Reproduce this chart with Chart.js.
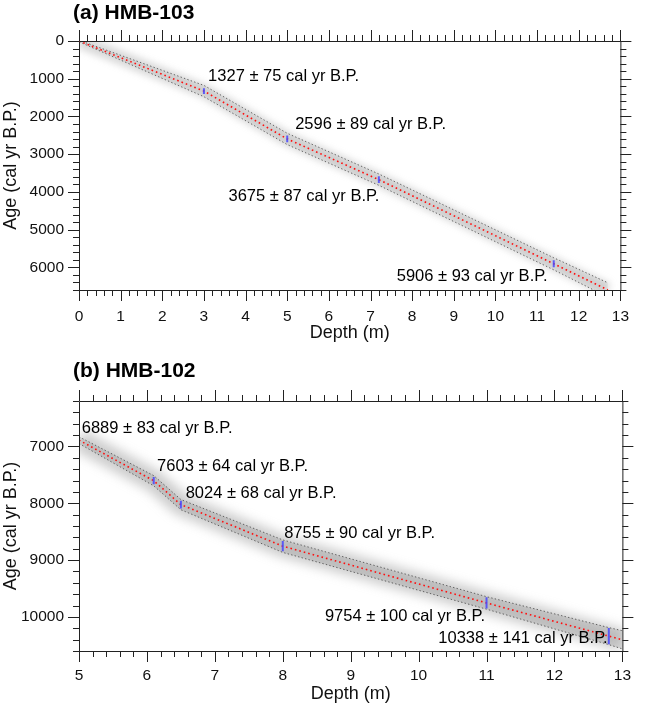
<!DOCTYPE html>
<html>
<head>
<meta charset="utf-8">
<script src="https://cdn.jsdelivr.net/npm/chart.js@4.4.0/dist/chart.umd.min.js"></script>
<style>
  html, body { margin: 0; padding: 0; background: #fff; }
  #wrap { position: relative; width: 646px; height: 705px; }
  canvas { position: absolute; left: 0; }
</style>
</head>
<body>
<div id="wrap">
  <canvas id="chartA" width="646" height="352" style="top:0"></canvas>
  <canvas id="chartB" width="646" height="353" style="top:352px"></canvas>
</div>
<script>
// (a) HMB-103 : age-depth model
const depthA = [0, 3.0, 5.0, 7.2, 11.4, 12.7];
const ageA = [0, 1327, 2596, 3675, 5906, 6600];
const bandA = [20, 150, 150, 150, 160, 190];
// dated samples
const dateDepthA = [3.0, 5.0, 7.2, 11.4];
const dateAgeA = [1327, 2596, 3675, 5906];
const dateErrA = [75, 89, 87, 93];
// where the date labels sit (depth, age)
const labelPosA = [[3.1, 930], [5.19, 2210], [3.59, 4130], [7.63, 6240]];
const xTicksA = [0, 1, 2, 3, 4, 5, 6, 7, 8, 9, 10, 11, 12, 13];
const yTicksA = [0, 1000, 2000, 3000, 4000, 5000, 6000];

// (b) HMB-102
const depthB = [5.0, 6.1, 6.5, 8.0, 11.0, 12.8, 13.0];
const ageB = [6889, 7603, 8024, 8755, 9754, 10338, 10403];
const bandB = [60, 90, 90, 110, 110, 150, 160];
const dateDepthB = [5.0, 6.1, 6.5, 8.0, 11.0, 12.8];
const dateAgeB = [6889, 7603, 8024, 8755, 9754, 10338];
const dateErrB = [83, 64, 68, 90, 100, 141];
const labelPosB = [[5.04, 6690], [6.15, 7360], [6.57, 7830], [8.02, 8525], [8.62, 10000], [10.29, 10380]];
const xTicksB = [5, 6, 7, 8, 9, 10, 11, 12, 13];
const yTicksB = [7000, 8000, 9000, 10000];

const FONT = '"Liberation Sans", Arial, Helvetica, sans-serif';

// blur for the grey halo
const haloBlur = {
  id: 'haloBlur',
  beforeDatasetDraw(chart, args) {
    const ds = chart.data.datasets[args.index];
    if (ds.blur) {
      chart.ctx.save();
      chart.ctx.filter = 'blur(' + ds.blur + 'px)';
    }
  },
  afterDatasetDraw(chart, args) {
    if (chart.data.datasets[args.index].blur) chart.ctx.restore();
  }
};

// frame + outward ticks on all four sides
const frameTicks = {
  id: 'frameTicks',
  afterDatasetsDraw(chart, args, opts) {
    const {ctx, chartArea: a, scales: {x, y}} = chart;
    ctx.save();
    ctx.strokeStyle = '#222';
    ctx.lineWidth = 1;
    ctx.beginPath();
    ctx.rect(a.left + 0.5, a.top + 0.5, a.right - a.left, a.bottom - a.top);
    const nx = Math.round((x.max - x.min) / opts.xMinor);
    for (let i = 0; i <= nx; i++) {
      const v = x.min + i * opts.xMinor;
      const px = Math.round(x.getPixelForValue(v)) + 0.5;
      const r = v / opts.xMajor;
      const len = Math.abs(r - Math.round(r)) < 1e-6 ? 11 : 6;
      ctx.moveTo(px, a.bottom); ctx.lineTo(px, a.bottom + len);
      ctx.moveTo(px, a.top); ctx.lineTo(px, a.top - len);
    }
    const y0 = Math.ceil(y.min / opts.yMinor);
    const y1 = Math.floor(y.max / opts.yMinor);
    for (let i = y0; i <= y1; i++) {
      const v = i * opts.yMinor;
      const py = Math.round(y.getPixelForValue(v)) + 0.5;
      const r = v / opts.yMajor;
      const len = Math.abs(r - Math.round(r)) < 1e-6 ? 11 : 6;
      ctx.moveTo(a.left, py); ctx.lineTo(a.left - len, py);
      ctx.moveTo(a.right, py); ctx.lineTo(a.right + len, py);
    }
    ctx.stroke();
    ctx.restore();
  }
};

// panel title and date labels
const textLayer = {
  id: 'textLayer',
  afterDraw(chart, args, opts) {
    const {ctx, scales: {x, y}} = chart;
    ctx.save();
    ctx.fillStyle = '#000';
    ctx.textBaseline = 'middle';
    ctx.textAlign = 'left';
    ctx.font = 'bold 21px ' + FONT;
    ctx.fillText(opts.title, 73, opts.titleY);
    ctx.font = '16.5px ' + FONT;
    opts.pos.forEach((p, i) => {
      ctx.fillText(opts.ages[i] + ' \u00b1 ' + opts.errs[i] + ' cal yr B.P.',
        x.getPixelForValue(p[0]), y.getPixelForValue(p[1]));
    });
    ctx.restore();
  }
};

function makeChart(id, d) {
  const pts = (ys) => d.depth.map((v, i) => ({x: v, y: ys[i]}));
  const upper = d.age.map((v, i) => v - d.band[i]);
  const lower = d.age.map((v, i) => v + d.band[i]);
  return new Chart(document.getElementById(id), {
    type: 'line',
    data: {
      datasets: [
        {
          data: d.dateDepth.map((v, i) => ({x: v, y: d.dateAge[i]})),
          showLine: false,
          pointStyle: 'line',
          rotation: 90,
          pointRadius: (c) => {
            const s = c.chart.scales.y;
            const i = c.dataIndex;
            return Math.abs(s.getPixelForValue(d.dateAge[i] + d.dateErr[i]) - s.getPixelForValue(d.dateAge[i]));
          },
          pointBorderColor: 'rgba(70,70,255,0.85)',
          pointBorderWidth: 2,
          order: 1
        },
        {
          data: pts(d.age),
          borderColor: '#ff1010',
          borderWidth: 1.6,
          borderDash: [1.6, 3],
          pointRadius: 0,
          order: 2
        },
        {
          data: pts(upper),
          borderColor: 'rgba(70,70,70,0.8)',
          borderWidth: 1,
          borderDash: [1.4, 2.2],
          pointRadius: 0,
          order: 3
        },
        {
          data: pts(lower),
          borderColor: 'rgba(70,70,70,0.8)',
          borderWidth: 1,
          borderDash: [1.4, 2.2],
          pointRadius: 0,
          fill: '-1',
          backgroundColor: 'rgba(150,150,150,' + d.fillAlpha + ')',
          order: 4
        },
        {
          data: pts(d.age),
          borderColor: 'rgba(130,130,130,' + d.haloAlpha + ')',
          borderWidth: d.halo,
          blur: d.halo / 4,
          pointRadius: 0,
          order: 5
        }
      ]
    },
    options: {
      responsive: false,
      animation: false,
      events: [],
      layout: {padding: {left: 0, right: 13, top: d.padTop, bottom: 0}},
      plugins: {
        legend: {display: false},
        tooltip: {enabled: false},
        frameTicks: {xMajor: 1, xMinor: 0.2, yMajor: 1000, yMinor: 200},
        textLayer: {title: d.title, titleY: d.titleY, pos: d.labelPos, ages: d.dateAge, errs: d.dateErr}
      },
      scales: {
        x: {
          type: 'linear',
          position: 'bottom',
          min: d.xTicks[0],
          max: 13,
          grid: {display: false, drawTicks: false},
          border: {display: false},
          afterBuildTicks: (s) => { s.ticks = d.xTicks.map(v => ({value: v})); },
          ticks: {padding: d.xPad, color: '#111', font: {family: FONT, size: 15.5}, maxRotation: 0, autoSkip: false,
                  callback: (v) => String(v)},
          title: {display: true, text: 'Depth (m)', color: '#111', font: {family: FONT, size: 18}, padding: {top: 0, bottom: d.xTitlePad}},
          afterFit: (s) => { s.height = d.xHeight; }
        },
        y: {
          type: 'linear',
          reverse: true,
          min: d.yMin,
          max: d.yMax,
          grid: {display: false, drawTicks: false},
          border: {display: false},
          afterBuildTicks: (s) => { s.ticks = d.yTicks.map(v => ({value: v})); },
          ticks: {padding: 15, color: '#111', font: {family: FONT, size: 15.5}, autoSkip: false,
                  callback: (v) => String(v)},
          title: {display: true, text: 'Age (cal yr B.P.)', color: '#111', font: {family: FONT, size: 18}, padding: {top: 0, bottom: 0}},
          afterFit: (s) => { s.width = 79; }
        }
      }
    },
    plugins: [haloBlur, frameTicks, textLayer]
  });
}

makeChart('chartA', {
  depth: depthA, age: ageA, band: bandA,
  dateDepth: dateDepthA, dateAge: dateAgeA, dateErr: dateErrA, labelPos: labelPosA,
  xTicks: xTicksA, yTicks: yTicksA,
  title: '(a) HMB-103', titleY: 13, halo: 14, haloAlpha: 0.3, fillAlpha: 0.15,
  yMin: 0, yMax: 6600,
  padTop: 41, xHeight: 62, xPad: 17, xTitlePad: 8
});

makeChart('chartB', {
  depth: depthB, age: ageB, band: bandB,
  dateDepth: dateDepthB, dateAge: dateAgeB, dateErr: dateErrB, labelPos: labelPosB,
  xTicks: xTicksB, yTicks: yTicksB,
  title: '(b) HMB-102', titleY: 19, halo: 22, haloAlpha: 0.4, fillAlpha: 0.3,
  yMin: 6200, yMax: 10600,
  padTop: 49, xHeight: 54, xPad: 15, xTitlePad: 0
});
</script>
</body>
</html>
